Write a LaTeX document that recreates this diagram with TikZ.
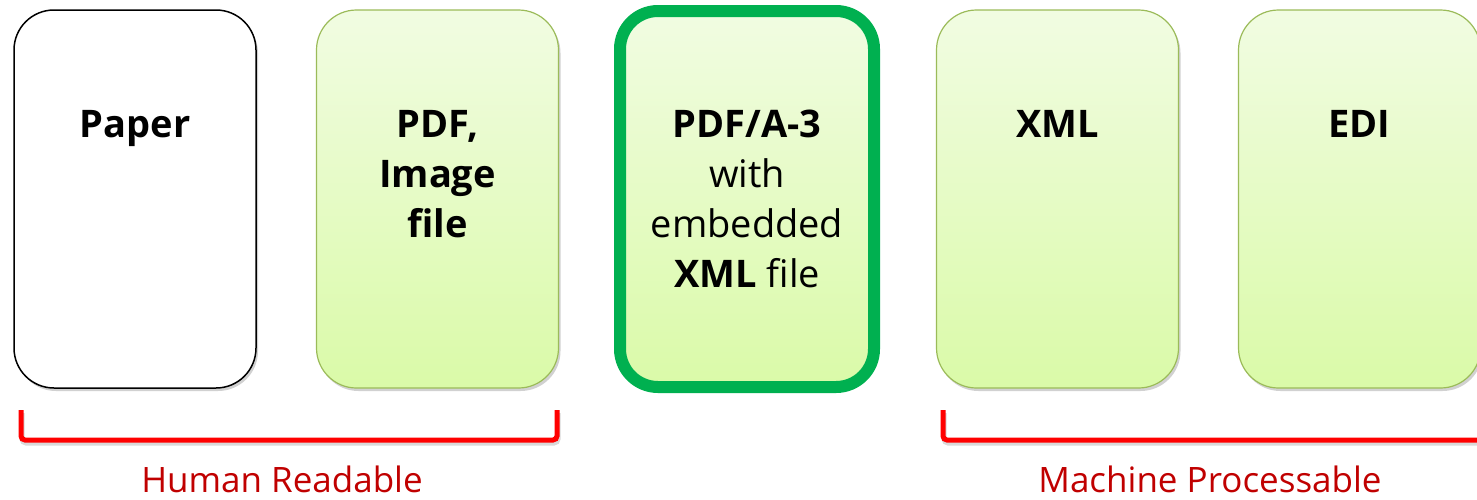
\documentclass[tikz,border=0pt]{standalone}
\usepackage{fontspec}
\setmainfont{Open Sans}
\usetikzlibrary{shadows}
\definecolor{gtop}{RGB}{241,252,226}
\definecolor{gbot}{RGB}{218,250,168}
\definecolor{gborder}{RGB}{155,187,89}
\definecolor{bgreen}{RGB}{0,176,80}
\definecolor{lblred}{RGB}{192,0,0}
\tikzset{
  card/.style={rectangle, rounded corners=40pt, minimum width=242pt, minimum height=378pt, inner sep=0pt,
    drop shadow={shadow xshift=2pt, shadow yshift=-3pt, opacity=0.18, fill=black}},
  greencard/.style={card, draw=gborder, line width=1.2pt, top color=gtop, bottom color=gbot},
  papercard/.style={card, draw=black, line width=1.5pt, fill=white},
  maincard/.style={card, draw=bgreen, line width=12pt, top color=gtop, bottom color=gbot,
    minimum width=254pt, minimum height=376pt, rounded corners=38pt},
  cardtext/.style={anchor=north, inner sep=0pt, align=center, font=\fontsize{38}{50}\selectfont},
  bracket/.style={draw=red, line width=5pt, rounded corners=4pt,
    preaction={draw=black, opacity=0.15, line width=5pt, transform canvas={xshift=1pt, yshift=-3pt}}},
  grouplabel/.style={text=lblred, font=\fontsize{35}{40}\selectfont, inner sep=0pt, anchor=base, text depth=0pt}
}
\begin{document}
\begin{tikzpicture}[x=1pt, y=-1pt]
\useasboundingbox (0,0) rectangle (1477,499);
\node[papercard] (paper) at (135,199) {};
\node[greencard] (pdf) at (437.5,199) {};
\node[maincard] (pdfa) at (747,199) {};
\node[greencard] (xml) at (1057.5,199) {};
\node[greencard] (edi) at (1359.5,199) {};

\node[cardtext, font=\fontsize{38}{50}\selectfont\bfseries] (tpaper) at (135,107) {\rule{0pt}{30pt}Paper};
\node[cardtext, font=\fontsize{38}{50}\selectfont\bfseries] (tpdf) at (437.5,107) {\rule{0pt}{30pt}PDF,\\Image\\file};
\node[cardtext] (tpdfa) at (747,107) {\rule{0pt}{30pt}\textbf{PDF/A-3}\\with\\embedded\\\textbf{XML} file};
\node[cardtext, font=\fontsize{38}{50}\selectfont\bfseries] (txml) at (1057.5,107) {\rule{0pt}{30pt}XML};
\node[cardtext, font=\fontsize{38}{50}\selectfont\bfseries] (tedi) at (1359.5,107) {\rule{0pt}{30pt}EDI};

\coordinate (h1) at (21,410);
\coordinate (h2) at (557,410);
\coordinate (m1) at (943,410);
\coordinate (m2) at (1500,410);
\draw[bracket] (h1) |- (557,440) -- (h2);
\draw[bracket] (m1) |- (1500,440) -- (m2);

\node[grouplabel] (lhuman) at (282,492) {Human Readable};
\node[grouplabel] (lmachine) at (1210,492) {Machine Processable};
\end{tikzpicture}
\end{document}
